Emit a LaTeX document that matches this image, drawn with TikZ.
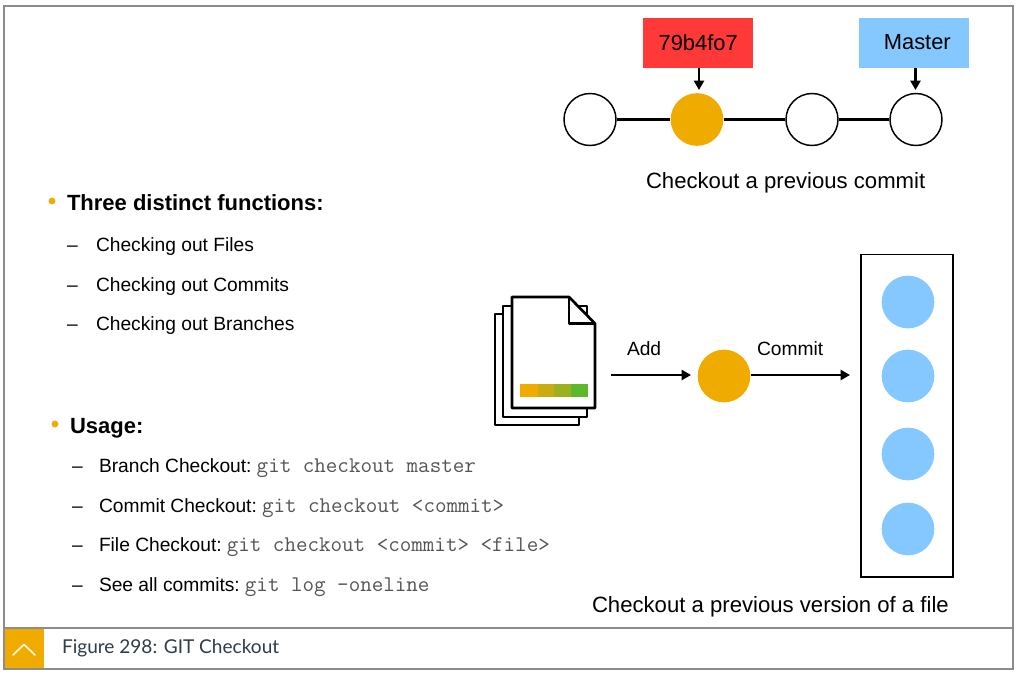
\documentclass[tikz,border=0pt]{standalone}
\usepackage{fontspec}
\setmainfont{Liberation Sans}
\newfontfamily\capfont{Lato}
\usetikzlibrary{arrows.meta}
\definecolor{sapgold}{HTML}{F0AB00}
\definecolor{lblue}{HTML}{85C8FF}
\definecolor{lred}{HTML}{FF3838}
\definecolor{framegray}{HTML}{8C8C8C}
\definecolor{monogray}{HTML}{555555}
\definecolor{captext}{HTML}{2F3C4A}
\definecolor{stripeb}{HTML}{C8AC10}
\definecolor{stripec}{HTML}{9DB020}
\definecolor{striped}{HTML}{5DB82A}
\newcommand{\gitcode}[1]{\kern-1.5pt\textcolor{monogray}{\fontsize{16.8pt}{18pt}\selectfont\ttfamily #1}}
\tikzset{
  x=0.75pt,y=-0.75pt,
  txt/.style={anchor=base west,inner sep=0pt,outer sep=0pt,text=black},
  head/.style={txt,font=\fontsize{16.5pt}{18pt}\selectfont\bfseries},
  item/.style={txt,font=\fontsize{14.4pt}{16pt}\selectfont},
  lab/.style={txt,font=\fontsize{16.6pt}{18pt}\selectfont},
  small/.style={txt,font=\fontsize{14.4pt}{16pt}\selectfont},
  bullet/.style={circle,fill=sapgold,inner sep=0pt,minimum size=5.2pt},
  commit/.style={circle,draw=black,fill=white,line width=1.1pt,minimum size=39pt,inner sep=0pt},
  commitgold/.style={circle,fill=sapgold,minimum size=39.5pt,inner sep=0pt},
  blob/.style={circle,fill=lblue,minimum size=39.5pt,inner sep=0pt},
  tagbox/.style={minimum width=82.5pt,minimum height=37.5pt,inner sep=0pt,font=\fontsize{16.4pt}{18pt}\selectfont},
  link/.style={line width=1.9pt},
  arr/.style={line width=1.7pt,-{Triangle[length=7pt,width=7.5pt]}},
  doc/.style={draw=black,fill=white,line width=2pt,line join=round},
}
\begin{document}
\begin{tikzpicture}
\useasboundingbox (0,0) rectangle (1015,672);
\fill[white] (0,0) rectangle (1015,672);
% frame
\draw[framegray,line width=1.5pt] (3.5,5.5) rectangle (1012.5,668.5);
\draw[framegray,line width=1.5pt] (3.5,628) -- (1012.5,628);
\fill[sapgold] (4.5,629) rectangle (44,667.5);
\draw[white!85!sapgold,line width=1.3pt,line cap=round] (13,655) -- (24,644.5) -- (35,655);
\node[txt,font=\capfont\fontsize{14.3pt}{16pt}\selectfont,text=captext] (caption) at (62,653) {Figure 298: GIT Checkout};
% top diagram
\node[tagbox,fill=lred] (hash) at (697.5,42.5) {\hspace*{1pt}79b4fo7};
\node[tagbox,fill=lblue] (master) at (914,42.5) {\hspace*{5pt}Master};
\node[commit] (c1) at (590,119.5) {};
\node[commitgold] (c2) at (697,119.5) {};
\node[commit] (c3) at (812,119.5) {};
\node[commit] (c4) at (916,119.5) {};
\draw[link] (c1) -- (c2);
\draw[link] (c2) -- (c3);
\draw[link] (c3) -- (c4);
\coordinate (hashtip) at (699,90);
\coordinate (mastertip) at (915.5,90);
\draw[arr] (hash.south -| hashtip) -- (hashtip);
\draw[arr] (master.south -| mastertip) -- (mastertip);
\node[lab] (cap1) at (646,188) {Checkout a previous commit};
% left text
\node[bullet] (b1) at (52,201) {};
\node[head] (h1) at (67,210) {Three distinct functions:};
\node[item] (i1d) at (67,251) {–};
\node[item] (i1) at (96,251) {Checking out Files};
\node[item] (i2d) at (67,291) {–};
\node[item] (i2) at (96,291) {Checking out Commits};
\node[item] (i3d) at (67,330) {–};
\node[item] (i3) at (96,330) {Checking out Branches};
\node[bullet] (b2) at (55,424) {};
\node[head] (h2) at (70,433) {Usage:};
\node[item] (u1d) at (72,472) {–};
\node[item] (u1) at (99,472) {Branch Checkout: \gitcode{git checkout master}};
\node[item] (u2d) at (72,512) {–};
\node[item] (u2) at (99,512) {Commit Checkout: \gitcode{git checkout <commit>}};
\node[item] (u3d) at (72,551) {–};
\node[item] (u3) at (99,551) {File Checkout: \gitcode{git checkout <commit> <file>}};
\node[item] (u4d) at (72,591) {–};
\node[item] (u4) at (99,591) {See all commits: \gitcode{git log –oneline}};
% documents
\draw[doc] (495,314) rectangle (579,425);
\draw[doc] (503,306) rectangle (587,417);
\draw[doc] (512,297) -- (569,297) -- (595,323.5) -- (595,408) -- (512,408) -- cycle;
\draw[doc,fill=none] (569,297) -- (569,323.5) -- (595,323.5);
\fill[sapgold] (520,384) rectangle (537.5,397);
\fill[stripeb] (537.5,384) rectangle (554,397);
\fill[stripec] (554,384) rectangle (570.5,397);
\fill[striped] (570.5,384) rectangle (587.5,397);
\coordinate (docout) at (611,375);
\node[commitgold] (stage) at (724,376) {};
\node[draw=black,fill=white,line width=1pt,minimum width=69pt,minimum height=242pt,inner sep=0pt] (repo) at (907,415.5) {};
\coordinate (stagein) at (691,375);
\coordinate (repoin) at (850,375);
\draw[arr] (docout) -- (stagein);
\draw[arr] (stage.east |- repoin) -- (repoin);
\node[small] (addl) at (627,355) {Add};
\node[small] (coml) at (757,355) {Commit};
\node[blob] (r1) at (908,302) {};
\node[blob] (r2) at (908,376) {};
\node[blob] (r3) at (908,454) {};
\node[blob] (r4) at (908,529) {};
\node[lab] (cap2) at (592,612) {Checkout a previous version of a file};
\end{tikzpicture}
\end{document}
